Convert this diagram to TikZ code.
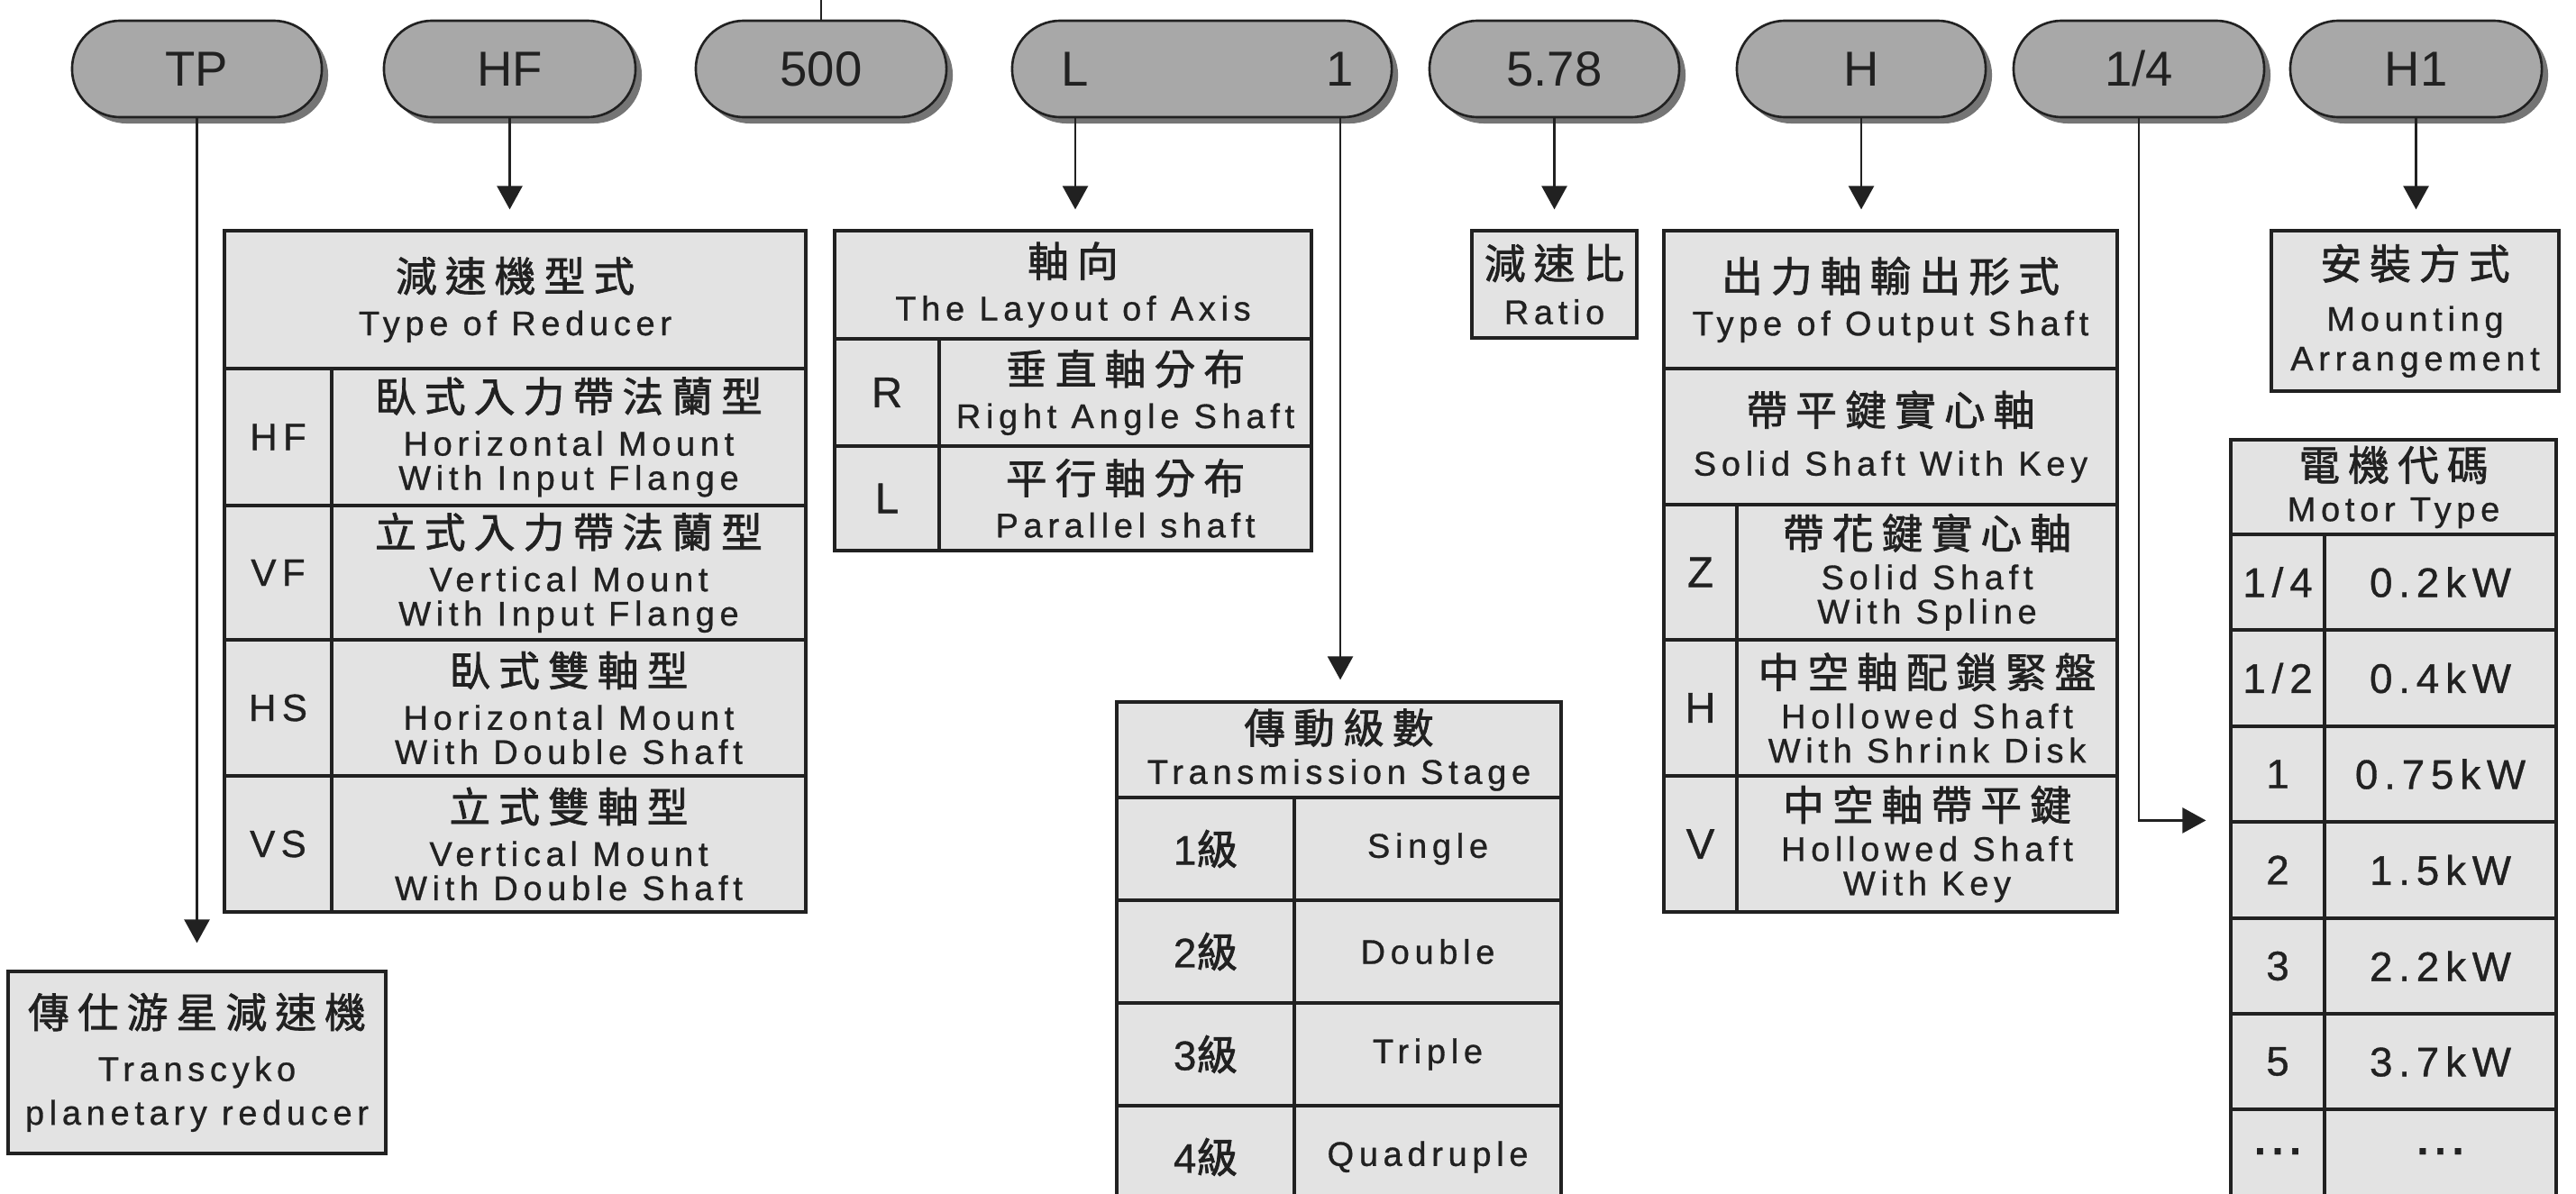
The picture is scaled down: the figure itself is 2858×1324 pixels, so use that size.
\documentclass[tikz,border=0pt]{standalone}
\usepackage{fontspec}
\setmainfont{Liberation Sans}[LetterSpace=15,FakeBold=0.8]
\newfontfamily\cjkf{Noto Sans CJK TC}[LetterSpace=20,FakeBold=1.6]
\newfontfamily\pillf{Liberation Sans}
\usetikzlibrary{shapes.misc,arrows.meta,shadows}
\definecolor{ink}{gray}{0.13}
\definecolor{pillgray}{gray}{0.66}
\definecolor{cellgray}{gray}{0.89}
\definecolor{shadowgray}{gray}{0.40}
\newcommand\cj[1]{{\cjkf\fontsize{13}{14}\selectfont #1}}
\newcommand\cellbox[7][]{\node[cell,#1,minimum width={(#5-#3)*0.01cm},minimum height={(#6-#4)*0.01cm}] (#2) at ({(#3+#5)/2},{(#4+#6)/2}) {#7};}
\newcommand\dotsym{\raisebox{0.28em}{\bfseries...}}
\tikzset{
  cell/.style={draw=ink, line width=0.9pt, fill=cellgray, inner sep=0pt, align=center,
    text=ink, font=\fontsize{10.8}{10.8}\selectfont},
  code/.style={font=\fontsize{12}{12}\selectfont},
  bigcode/.style={font=\fontsize{13.5}{14}\selectfont},
  big/.style={font=\fontsize{13}{13}\selectfont},
  pill/.style={rounded rectangle, draw=ink, line width=0.75pt, fill=pillgray,
    minimum height=1.07cm, inner sep=0pt, text=ink, font=\pillf\fontsize{15.5}{16}\selectfont,
    drop shadow={shadow xshift=0.07cm, shadow yshift=-0.07cm, fill=shadowgray, opacity=0.9}},
  pilltext/.style={inner sep=0pt, text=ink, font=\pillf\fontsize{15.5}{16}\selectfont},
  wire/.style={draw=ink, line width=0.7pt},
  conn/.style={wire, -{Triangle[length=0.26cm,width=0.28cm]}, shorten >=0.22cm},
}
\begin{document}
\begin{tikzpicture}[x=0.01cm, y=-0.01cm]
\useasboundingbox (0,0) rectangle (2858,1324);
\fill[white] (0,0) rectangle (2858,1324);
\clip (0,0) rectangle (2858,1324);

% ---------- code pills ----------
\node[pill, minimum width=2.77cm] (tp)   at (218.5,76.5) {TP};
\node[pill, minimum width=2.79cm] (hf)   at (565.5,76.5) {HF};
\node[pill, minimum width=2.78cm] (p500) at (911,76.5)   {500};
\node[pill, minimum width=4.21cm] (pl1)  at (1333.5,76.5) {};
\node[pilltext] (plL) at (1193,76.5) {L};
\node[pilltext] (pln) at (1487,76.5) {1};
\node[pill, minimum width=2.77cm] (p578) at (1724.5,76.5) {5.78};
\node[pill, minimum width=2.76cm] (ph)   at (2065,76.5)  {H};
\node[pill, minimum width=2.78cm] (p14)  at (2373,76.5)  {1/4};
\node[pill, minimum width=2.79cm] (ph1)  at (2680.5,76.5) {H1};

% ---------- Type of Reducer ----------
\cellbox{t1h}{249}{256}{894}{409}{\cj{減速機型式}\\[3pt]Type of Reducer}
\cellbox[code]{t1c1}{249}{409}{368}{561}{HF}
\cellbox{t1d1}{368}{409}{894}{561}{\cj{臥式入力帶法蘭型}\\[3pt]Horizontal Mount\\With Input Flange}
\cellbox[code]{t1c2}{249}{561}{368}{710}{VF}
\cellbox{t1d2}{368}{561}{894}{710}{\cj{立式入力帶法蘭型}\\[3pt]Vertical Mount\\With Input Flange}
\cellbox[code]{t1c3}{249}{710}{368}{861}{HS}
\cellbox{t1d3}{368}{710}{894}{861}{\cj{臥式雙軸型}\\[3pt]Horizontal Mount\\With Double Shaft}
\cellbox[code]{t1c4}{249}{861}{368}{1012}{VS}
\cellbox{t1d4}{368}{861}{894}{1012}{\cj{立式雙軸型}\\[3pt]Vertical Mount\\With Double Shaft}

% ---------- Layout of Axis ----------
\cellbox{axh}{926}{256}{1455}{376}{\cj{軸向}\\[3pt]The Layout of Axis}
\cellbox[bigcode]{axc1}{926}{376}{1042}{495}{R}
\cellbox{axd1}{1042}{376}{1455}{495}{\cj{垂直軸分布}\\[3pt]Right Angle Shaft}
\cellbox[bigcode]{axc2}{926}{495}{1042}{611}{L}
\cellbox{axd2}{1042}{495}{1455}{611}{\cj{平行軸分布}\\[3pt]Parallel shaft}

% ---------- Ratio ----------
\cellbox{ratio}{1633}{256}{1816}{375}{\cj{減速比}\\[3.5pt]Ratio}

% ---------- Output shaft ----------
\cellbox{oh}{1846}{256}{2349}{409}{\cj{出力軸輸出形式}\\[3pt]Type of Output Shaft}
\cellbox{o1}{1846}{409}{2349}{560}{\cj{帶平鍵實心軸}\\[5pt]Solid Shaft With Key}
\cellbox[bigcode]{oc2}{1846}{560}{1927}{710}{Z}
\cellbox{od2}{1927}{560}{2349}{710}{\cj{帶花鍵實心軸}\\[2pt]Solid Shaft\\With Spline}
\cellbox[bigcode]{oc3}{1846}{710}{1927}{861}{H}
\cellbox{od3}{1927}{710}{2349}{861}{\cj{中空軸配鎖緊盤}\\[2pt]Hollowed Shaft\\With Shrink Disk}
\cellbox[bigcode]{oc4}{1846}{861}{1927}{1012}{V}
\cellbox{od4}{1927}{861}{2349}{1012}{\cj{中空軸帶平鍵}\\[2pt]Hollowed Shaft\\With Key}

% ---------- Mounting ----------
\cellbox{mount}{2520}{256}{2839}{434}{\cj{安裝方式}\\[5.5pt]Mounting\\[1.7pt]Arrangement}

% ---------- Motor type ----------
\cellbox{mh}{2475}{488}{2836}{593}{\cj{電機代碼}\\[2pt]Motor Type}
\cellbox[big]{m1c}{2475}{593}{2579}{699}{1/4}
\cellbox[big]{m1v}{2579}{593}{2836}{699}{0.2kW}
\cellbox[big]{m2c}{2475}{699}{2579}{806}{1/2}
\cellbox[big]{m2v}{2579}{699}{2836}{806}{0.4kW}
\cellbox[big]{m3c}{2475}{806}{2579}{912}{1}
\cellbox[big]{m3v}{2579}{806}{2836}{912}{0.75kW}
\cellbox[big]{m4c}{2475}{912}{2579}{1019}{2}
\cellbox[big]{m4v}{2579}{912}{2836}{1019}{1.5kW}
\cellbox[big]{m5c}{2475}{1019}{2579}{1125}{3}
\cellbox[big]{m5v}{2579}{1019}{2836}{1125}{2.2kW}
\cellbox[big]{m6c}{2475}{1125}{2579}{1231}{5}
\cellbox[big]{m6v}{2579}{1125}{2836}{1231}{3.7kW}
\cellbox[big]{m7c}{2475}{1231}{2579}{1337}{\dotsym}
\cellbox[big]{m7v}{2579}{1231}{2836}{1337}{\dotsym}

% ---------- Transmission stage ----------
\cellbox{sh}{1239}{779}{1732}{885}{\cj{傳動級數}\\[2pt]Transmission Stage}
\cellbox[big]{s1c}{1239}{885}{1436}{999}{1{\cjkf 級}}
\cellbox{s1v}{1436}{885}{1732}{999}{Single}
\cellbox[big]{s2c}{1239}{999}{1436}{1113}{2{\cjkf 級}}
\cellbox{s2v}{1436}{999}{1732}{1113}{Double}
\cellbox[big]{s3c}{1239}{1113}{1436}{1227}{3{\cjkf 級}}
\cellbox{s3v}{1436}{1113}{1732}{1227}{Triple}
\cellbox[big]{s4c}{1239}{1227}{1436}{1341}{4{\cjkf 級}}
\cellbox{s4v}{1436}{1227}{1732}{1341}{Quadruple}

% ---------- Product box ----------
\cellbox{tpbox}{9}{1078}{428}{1280}{\cj{傳仕游星減速機}\\[6pt]Transcyko\\[3pt]planetary reducer}

% ---------- connectors ----------
\coordinate (top500) at (911,0);
\draw[wire] (p500.north) -- (top500);
\draw[conn, shorten >=0.3cm] (tp.south) -- (tpbox.north);
\draw[conn] (hf.south) -- (hf.south |- t1h.north);
\draw[conn] (plL |- pl1.south) -- (plL |- axh.north);
\draw[conn, shorten >=0.23cm] (pln |- pl1.south) -- (pln |- sh.north);
\draw[conn] (p578.south) -- (ratio.north);
\draw[conn] (ph.south) -- (ph.south |- oh.north);
\draw[conn, shorten >=0.26cm] (p14.south) |- (m4c.north west);
\draw[conn] (ph1.south) -- (ph1.south |- mount.north);
\end{tikzpicture}
\end{document}
